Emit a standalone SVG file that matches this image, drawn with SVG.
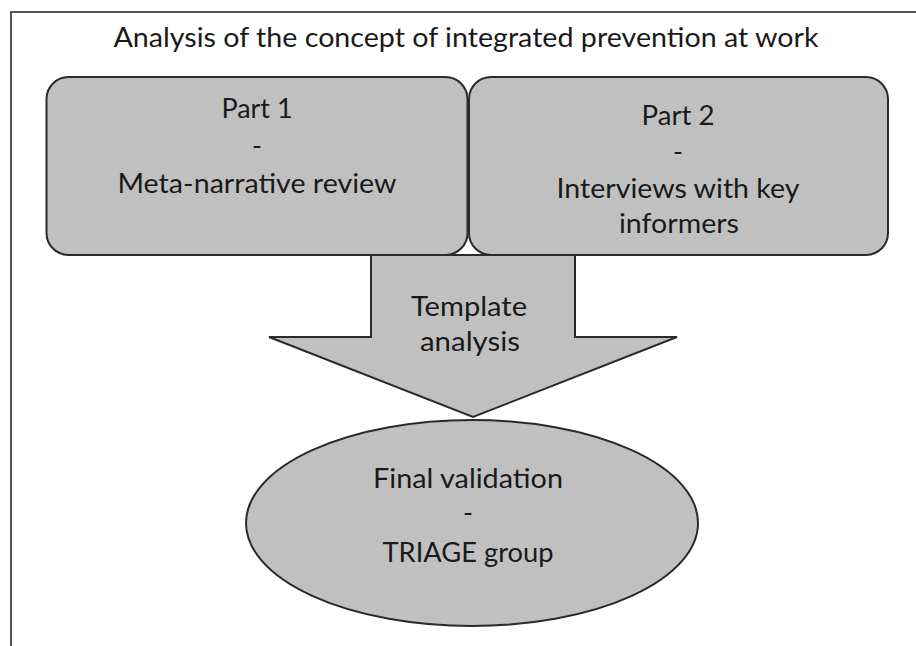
<svg xmlns="http://www.w3.org/2000/svg" width="916" height="646" viewBox="0 0 916 646">
<style>
.shape{fill:#c0c0c0;stroke:#2a2a2a;stroke-width:2}
.frame{fill:none;stroke:#555;stroke-width:2}
text{font-family:Lato,"Open Sans","Liberation Sans",sans-serif;font-size:27px;fill:#1a1a1a;text-anchor:middle}
</style>
<rect width="916" height="646" fill="#fff"/>
<g id="frame">
<path class="frame" d="M11,646 V12 H916"/>
<text x="466" y="47" textLength="705" lengthAdjust="spacingAndGlyphs">Analysis of the concept of integrated prevention at work</text>
</g>
<g id="part1">
<rect class="shape" x="46.5" y="77" width="421" height="178" rx="22" ry="22"/>
<text x="257" y="118" textLength="71" lengthAdjust="spacingAndGlyphs">Part 1</text>
<text x="257" y="155">-</text>
<text x="257" y="193" textLength="279" lengthAdjust="spacingAndGlyphs">Meta-narrative review</text>
</g>
<g id="part2">
<rect class="shape" x="469" y="77" width="419" height="178" rx="22" ry="22"/>
<text x="678" y="125" textLength="73" lengthAdjust="spacingAndGlyphs">Part 2</text>
<text x="678" y="161">-</text>
<text x="678" y="198" textLength="243" lengthAdjust="spacingAndGlyphs">Interviews with key</text>
<text x="679" y="233" textLength="120" lengthAdjust="spacingAndGlyphs">informers</text>
</g>
<g id="connectors">
<g id="template">
<path class="shape" d="M371,255 H575 V337 H677 L473,417 L269,337 H371 Z"/>
<text x="469" y="316" textLength="116" lengthAdjust="spacingAndGlyphs">Template</text>
<text x="470" y="351" textLength="100" lengthAdjust="spacingAndGlyphs">analysis</text>
</g>
</g>
<g id="final">
<ellipse class="shape" cx="472" cy="523" rx="226" ry="103"/>
<text x="468" y="488" textLength="190" lengthAdjust="spacingAndGlyphs">Final validation</text>
<text x="468" y="522">-</text>
<text x="468" y="562" textLength="171" lengthAdjust="spacingAndGlyphs">TRIAGE group</text>
</g>
</svg>
